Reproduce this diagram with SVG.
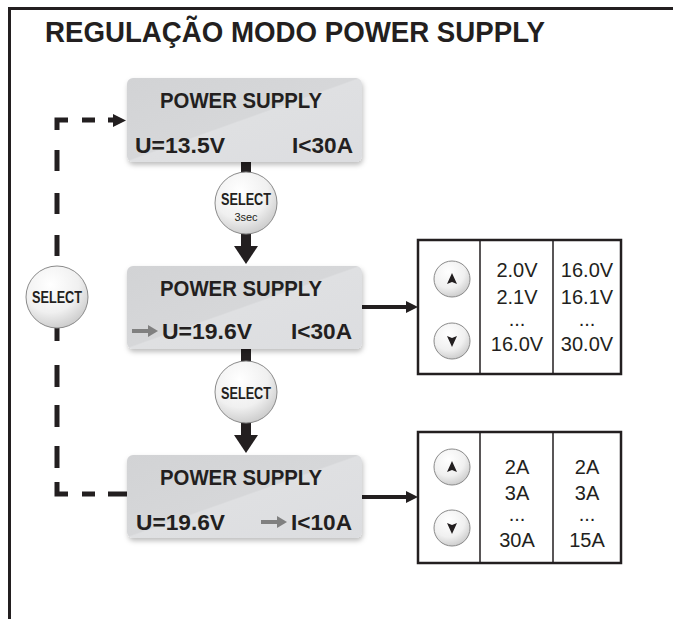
<svg xmlns="http://www.w3.org/2000/svg" width="673" height="619" viewBox="0 0 673 619">
<defs>
<style>
.t{font-family:"Liberation Sans",Arial,sans-serif;fill:#231f20}
.b{font-weight:bold}
.box{fill:url(#gBox)}
.btn{fill:url(#gBtn);stroke:#8a8a8a;stroke-width:1}
.tbl{fill:#fff;stroke:#231f20;stroke-width:2.5}
.cell{font-family:"Liberation Sans",Arial,sans-serif;font-size:20px;fill:#231f20;text-anchor:middle}
.dash{stroke:#231f20;stroke-width:5;fill:none}
.bar{fill:#231f20}
</style>
<linearGradient id="gBox" x1="0" y1="0" x2="1" y2="1">
<stop offset="0" stop-color="#d2d3d5"/>
<stop offset="0.49" stop-color="#d6d7d9"/>
<stop offset="0.5" stop-color="#dfe0e2"/>
<stop offset="1" stop-color="#dcdde0"/>
</linearGradient>
<radialGradient id="gBtn" cx="0.4" cy="0.3" r="0.75">
<stop offset="0" stop-color="#ffffff"/>
<stop offset="0.6" stop-color="#f0f0f0"/>
<stop offset="1" stop-color="#c8c8c8"/>
</radialGradient>
<filter id="sh" x="-10%" y="-10%" width="125%" height="135%">
<feDropShadow dx="1" dy="3" stdDeviation="2.5" flood-color="#000" flood-opacity="0.25"/>
</filter>
</defs>
<rect width="673" height="619" fill="#fff"/>
<path d="M9.5,619 V8.5 H673" fill="none" stroke="#231f20" stroke-width="3"/>
<text class="t b" x="45" y="42" font-size="29" textLength="500" lengthAdjust="spacingAndGlyphs">REGULAÇÃO MODO POWER SUPPLY</text>

<g id="connectors">
<path class="dash" d="M57,130 V120 H68"/>
<path class="dash" d="M82,120 H95 M108,120 H115"/>
<polygon class="bar" points="113,114 126,120.5 113,127"/>
<path class="dash" d="M57,150 V171 M57,193 V214 M57,235 V256 M57,328 V341 M57,365 V387 M57,405 V427 M57,446 V468"/>
<path class="dash" d="M57,482 V494 H68"/>
<path class="dash" d="M82,494 H95 M108,494 H127"/>
<rect class="bar" x="241" y="160" width="10" height="14"/>
<rect class="bar" x="241" y="232" width="10" height="16"/>
<polygon class="bar" points="234,246 258,246 246,264"/>
<rect class="bar" x="241" y="347" width="10" height="16"/>
<rect class="bar" x="241" y="421" width="10" height="16"/>
<polygon class="bar" points="234,435 258,435 246,453"/>
<rect class="bar" x="362" y="305" width="46" height="4"/>
<polygon class="bar" points="406,301 418,307 406,313"/>
<rect class="bar" x="362" y="495" width="46" height="4"/>
<polygon class="bar" points="406,491 418,497 406,503"/>
</g>

<g id="box1">
<rect class="box" x="127" y="78" width="235" height="84" rx="6" filter="url(#sh)"/>
<text class="t b" x="160" y="108" font-size="22" textLength="162" lengthAdjust="spacingAndGlyphs">POWER SUPPLY</text>
<text class="t b" x="135" y="153" font-size="22" textLength="90" lengthAdjust="spacingAndGlyphs">U=13.5V</text>
<text class="t b" x="292" y="153" font-size="22" textLength="61" lengthAdjust="spacingAndGlyphs">I&lt;30A</text>
</g>

<g id="select1">
<circle class="btn" cx="246" cy="203" r="31"/>
<text class="t b" x="246" y="205" font-size="16" text-anchor="middle" textLength="50" lengthAdjust="spacingAndGlyphs">SELECT</text>
<text class="t" x="246" y="221" font-size="11" text-anchor="middle">3sec</text>
</g>

<g id="box2">
<rect class="box" x="127" y="266" width="235" height="83" rx="6" filter="url(#sh)"/>
<text class="t b" x="160" y="296" font-size="22" textLength="162" lengthAdjust="spacingAndGlyphs">POWER SUPPLY</text>
<path d="M132,331 H150" stroke="#808080" stroke-width="4"/>
<polygon points="148,325 158,331 148,337" fill="#808080"/>
<text class="t b" x="162" y="339" font-size="22" textLength="90" lengthAdjust="spacingAndGlyphs">U=19.6V</text>
<text class="t b" x="291" y="339" font-size="22" textLength="61" lengthAdjust="spacingAndGlyphs">I&lt;30A</text>
</g>

<g id="select2">
<circle class="btn" cx="246" cy="392" r="31"/>
<text class="t b" x="246" y="399" font-size="17" text-anchor="middle" textLength="50" lengthAdjust="spacingAndGlyphs">SELECT</text>
</g>

<g id="select-left">
<circle class="btn" cx="57" cy="297" r="31"/>
<text class="t b" x="57" y="303" font-size="17" text-anchor="middle" textLength="50" lengthAdjust="spacingAndGlyphs">SELECT</text>
</g>

<g id="box3">
<rect class="box" x="127" y="455" width="235" height="83" rx="6" filter="url(#sh)"/>
<text class="t b" x="160" y="485" font-size="22" textLength="162" lengthAdjust="spacingAndGlyphs">POWER SUPPLY</text>
<text class="t b" x="136" y="530" font-size="22" textLength="89" lengthAdjust="spacingAndGlyphs">U=19.6V</text>
<path d="M261,522 H279" stroke="#808080" stroke-width="4"/>
<polygon points="277,516 287,522 277,528" fill="#808080"/>
<text class="t b" x="291" y="530" font-size="22" textLength="61" lengthAdjust="spacingAndGlyphs">I&lt;10A</text>
</g>

<g id="table-voltage">
<rect class="tbl" x="418" y="240" width="203" height="134"/>
<path d="M480,240 V374 M553,240 V374" stroke="#231f20" stroke-width="1.5"/>
<circle class="btn" cx="452" cy="279" r="18"/>
<polygon points="452,273 457,284 452,282 447,284" fill="#231f20"/>
<circle class="btn" cx="452" cy="341" r="18"/>
<polygon points="452,347 457,336 452,338 447,336" fill="#231f20"/>
<text class="cell" x="517" y="277">2.0V</text>
<text class="cell" x="517" y="304">2.1V</text>
<text class="cell" x="517" y="326">...</text>
<text class="cell" x="517" y="351">16.0V</text>
<text class="cell" x="587" y="277">16.0V</text>
<text class="cell" x="587" y="304">16.1V</text>
<text class="cell" x="587" y="326">...</text>
<text class="cell" x="587" y="351">30.0V</text>
</g>

<g id="table-current">
<rect class="tbl" x="418" y="432" width="203" height="131"/>
<path d="M480,432 V563 M553,432 V563" stroke="#231f20" stroke-width="1.5"/>
<circle class="btn" cx="452" cy="467" r="18"/>
<polygon points="452,461 457,472 452,470 447,472" fill="#231f20"/>
<circle class="btn" cx="452" cy="528" r="18"/>
<polygon points="452,534 457,523 452,525 447,523" fill="#231f20"/>
<text class="cell" x="517" y="474">2A</text>
<text class="cell" x="517" y="500">3A</text>
<text class="cell" x="517" y="521">...</text>
<text class="cell" x="517" y="547">30A</text>
<text class="cell" x="587" y="474">2A</text>
<text class="cell" x="587" y="500">3A</text>
<text class="cell" x="587" y="521">...</text>
<text class="cell" x="587" y="547">15A</text>
</g>
</svg>
